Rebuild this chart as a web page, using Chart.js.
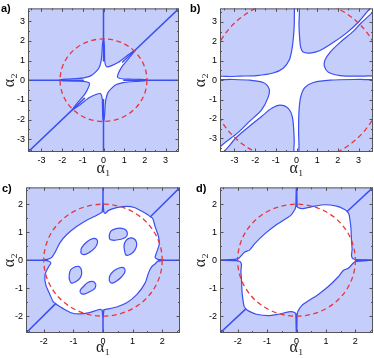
<!DOCTYPE html>
<html>
<head>
<meta charset="utf-8">
<script src="https://cdn.jsdelivr.net/npm/chart.js@4.4.1/dist/chart.umd.min.js"></script>
<style>
  body { margin: 0; background: #fff; overflow: hidden; }
  .panel { position: absolute; width: 187px; height: 179px; }
  .tag { position: absolute; font: bold 11px "Liberation Sans", Arial, sans-serif; color: #000; }
</style>
</head>
<body>
<div class="panel" style="left:0;top:0"><canvas id="pa" width="187" height="179"></canvas></div>
<div class="panel" style="left:187px;top:0"><canvas id="pb" width="187" height="179"></canvas></div>
<div class="panel" style="left:0;top:179px"><canvas id="pc" width="187" height="179"></canvas></div>
<div class="panel" style="left:187px;top:179px"><canvas id="pd" width="187" height="179"></canvas></div>
<div class="tag" style="left:1px;top:2px">a)</div>
<div class="tag" style="left:190px;top:2px">b)</div>
<div class="tag" style="left:2px;top:182px">c)</div>
<div class="tag" style="left:196px;top:182px">d)</div>
<script>
// axis extent, ticks and dashed circle radius for each panel
const axisLimits = [3.65, 3.7, 2.6, 2.6];
const tickValues = [
    [-3, -2, -1, 0, 1, 2, 3],
    [-3, -2, -1, 0, 1, 2, 3],
    [-2, -1, 0, 1, 2],
    [-2, -1, 0, 1, 2]
];
const circleRadii = [2.1, 4.2, 2.0, 2.0];

// white regions (boundary)
const regionA = [
    [0, 2.15], [0.04, 1.8], [0.05, 1.3], [0.06, 0.95], [0.15, 0.68], [0.4, 0.74], [0.72, 0.91], [1.12, 1.23], [1.44, 1.47], [1.52, 1.52],
    [1.47, 1.44], [1.23, 1.12], [0.91, 0.72], [0.74, 0.4], [0.68, 0.15], [0.95, 0.06], [1.3, 0.05], [1.8, 0.04], [2.15, 0],
    [1.8, -0.05], [1.3, -0.08], [0.95, -0.12], [0.62, -0.22], [0.4, -0.4], [0.22, -0.62], [0.12, -0.95], [0.08, -1.3], [0.05, -1.8], [0, -2.15],
    [-0.04, -1.8], [-0.05, -1.3], [-0.06, -0.95], [-0.15, -0.68], [-0.4, -0.74], [-0.72, -0.91], [-1.12, -1.23], [-1.44, -1.47], [-1.52, -1.52],
    [-1.47, -1.44], [-1.23, -1.12], [-0.91, -0.72], [-0.74, -0.4], [-0.68, -0.15], [-0.95, -0.06], [-1.3, -0.05], [-1.8, -0.04], [-2.15, 0],
    [-1.8, 0.05], [-1.3, 0.08], [-0.95, 0.12], [-0.62, 0.22], [-0.4, 0.4], [-0.22, 0.62], [-0.12, 0.95], [-0.08, 1.3], [-0.05, 1.8], [0, 2.15]
];
const regionB = [
    [-0.1, 3.75], [0.12, 3.75], [0.12, 2.86], [0.15, 2.2], [0.2, 1.7], [0.32, 1.45], [0.66, 1.4], [1.14, 1.53], [1.79, 1.95], [2.44, 2.45], [3.0, 3.0], [3.62, 3.75],
    [3.75, 3.6], [3.1, 2.92], [2.76, 2.53], [2.11, 1.95], [1.63, 1.45], [1.38, 1.04], [1.35, 0.71], [1.54, 0.41], [2.11, 0.24], [3.08, 0.21], [3.75, 0.2],
    [3.75, 0.04], [3.08, 0.04], [1.63, 0.0], [0.82, -0.12], [0.41, -0.37], [0.2, -0.87], [0.12, -1.62], [0.1, -2.6], [0.1, -3.75],
    [-0.11, -3.75], [-0.11, -3.1], [-0.19, -1.95], [-0.4, -1.45], [-0.8, -1.28], [-1.2, -1.45], [-1.69, -1.87], [-2.26, -2.36], [-2.9, -2.94], [-3.6, -3.75],
    [-3.75, -3.5], [-2.83, -2.7], [-2.26, -2.11], [-1.69, -1.53], [-1.37, -0.87], [-1.32, -0.46], [-1.61, -0.12], [-2.26, 0.0], [-3.23, 0.04], [-3.75, 0.04],
    [-3.75, 0.19], [-3.23, 0.19], [-2.74, 0.21], [-1.93, 0.24], [-1.13, 0.37], [-0.64, 0.62], [-0.35, 1.04], [-0.23, 1.53], [-0.15, 2.2], [-0.11, 2.86], [-0.1, 3.75]
];
const regionC = [
    [-0.1, 1.67], [-0.03, 1.72], [0, 2.05], [0.03, 1.72], [0.07, 1.67],
    [0.19, 1.78], [0.46, 1.875], [0.8, 1.92], [1.08, 1.875], [1.36, 1.72], [1.53, 1.61], [1.6, 1.55], [1.68, 1.49], [1.76, 1.2], [1.87, 0.86], [1.9, 0.57], [1.81, 0.28], [1.76, 0.1], [1.85, 0.03], [2.05, 0], [1.85, -0.04],
    [1.76, -0.13], [1.64, -0.24], [1.53, -0.47], [1.42, -0.82], [1.14, -1.23], [0.8, -1.52], [0.46, -1.67], [0.12, -1.75], [0.05, -1.76],
    [0.03, -1.8], [0, -2.05], [-0.03, -1.8], [-0.08, -1.76],
    [-0.19, -1.78], [-0.46, -1.875], [-0.8, -1.92], [-1.08, -1.875], [-1.36, -1.72], [-1.53, -1.61], [-1.6, -1.55], [-1.68, -1.49], [-1.79, -1.23], [-1.93, -0.88], [-1.96, -0.53], [-1.84, -0.24], [-1.76, -0.1], [-1.85, -0.03], [-2.05, 0], [-1.85, 0.04],
    [-1.73, 0.1], [-1.62, 0.28], [-1.45, 0.63], [-1.23, 0.91], [-0.89, 1.2], [-0.55, 1.43], [-0.27, 1.57], [-0.1, 1.67]
];
const regionD = [
    [-0.05, 1.82], [-0.02, 1.95], [0, 2.6], [0.02, 1.95], [0.05, 1.88], [0.22, 1.84], [0.62, 1.93], [0.96, 1.98], [1.36, 1.93], [1.62, 1.82], [1.72, 1.74], [1.78, 1.65], [1.81, 1.49], [1.85, 1.15], [1.87, 0.68], [1.89, 0.39], [1.87, 0.16], [1.92, 0.05], [2.05, 0.02], [2.6, 0], [2.05, -0.04], [1.95, -0.08],
    [1.76, -0.29], [1.6, -0.36], [1.42, -0.59], [1.08, -0.94], [0.73, -1.23], [0.39, -1.46], [0.17, -1.63], [0.05, -1.82],
    [0.02, -1.95], [0, -2.6], [-0.02, -1.95], [-0.05, -1.88], [-0.22, -1.84], [-0.62, -1.93], [-0.96, -1.98], [-1.36, -1.93], [-1.62, -1.82], [-1.72, -1.74], [-1.78, -1.65], [-1.81, -1.49], [-1.85, -1.15], [-1.87, -0.68], [-1.89, -0.39], [-1.87, -0.16], [-1.92, -0.05], [-2.05, -0.02], [-2.6, 0], [-2.05, 0.04], [-1.95, 0.08],
    [-1.76, 0.29], [-1.6, 0.36], [-1.42, 0.59], [-1.08, 0.94], [-0.73, 1.23], [-0.39, 1.46], [-0.17, 1.63], [-0.05, 1.82]
];

// the six islands inside panel c
const islandsC = [
    [[0.23, 0.74], [0.21, 0.86], [0.26, 1.03], [0.41, 1.12], [0.63, 1.14], [0.78, 1.07], [0.82, 0.91], [0.74, 0.8], [0.57, 0.74], [0.37, 0.71], [0.23, 0.74]],
    [[0.74, 0.28], [0.71, 0.51], [0.78, 0.71], [0.94, 0.8], [1.08, 0.74], [1.14, 0.57], [1.08, 0.37], [0.94, 0.22], [0.78, 0.18], [0.74, 0.28]],
    [[-0.75, 0.25], [-0.72, 0.45], [-0.55, 0.65], [-0.35, 0.77], [-0.21, 0.74], [-0.19, 0.6], [-0.29, 0.42], [-0.46, 0.28], [-0.64, 0.2], [-0.75, 0.25]],
    [[-0.74, -0.3], [-0.72, -0.47], [-0.77, -0.63], [-0.91, -0.76], [-1.06, -0.82], [-1.13, -0.7], [-1.14, -0.53], [-1.09, -0.34], [-0.95, -0.24], [-0.82, -0.22], [-0.74, -0.3]],
    [[-0.24, -0.86], [-0.27, -1.0], [-0.42, -1.11], [-0.61, -1.2], [-0.74, -1.19], [-0.77, -1.08], [-0.66, -0.94], [-0.5, -0.79], [-0.33, -0.76], [-0.24, -0.86]],
    [[0.21, -0.74], [0.23, -0.56], [0.37, -0.38], [0.57, -0.27], [0.71, -0.28], [0.74, -0.42], [0.63, -0.59], [0.46, -0.74], [0.29, -0.82], [0.21, -0.74]]
];

// straight contour pieces [x1, y1, x2, y2]
const linesA = [[0, 0.95, 0, 3.65], [0, -0.95, 0, -3.65], [0.95, 0, 3.65, 0], [-0.95, 0, -3.65, 0], [0.9, 0.9, 3.65, 3.65], [-0.9, -0.9, -3.65, -3.65]];
const linesB = [];
const linesC = [[0, 1.72, 0, 2.6], [0, -1.76, 0, -2.6], [1.85, 0, 2.6, 0], [-1.85, 0, -2.6, 0], [1.6, 1.55, 2.6, 2.6], [-1.6, -1.55, -2.6, -2.6]];
const linesD = [[0, 1.9, 0, 2.6], [0, -1.9, 0, -2.6], [2.0, 0, 2.6, 0], [-2.0, 0, -2.6, 0], [1.72, 1.74, 2.6, 2.6], [-1.72, -1.74, -2.6, -2.6]];

const BLUE = '#3b4ef2';
const SHADE = '#c5cdfa';
const RED = '#e8363c';

const toPts = arr => arr.map(p => ({x: p[0], y: p[1]}));

const shadePlugin = {
    id: 'shade',
    beforeDatasetsDraw(chart) {
        const a = chart.chartArea, ctx = chart.ctx;
        ctx.save();
        ctx.fillStyle = SHADE;
        ctx.fillRect(a.left, a.top, a.right - a.left, a.bottom - a.top);
        ctx.restore();
    }
};

const overlayPlugin = {
    id: 'overlay',
    afterDatasetsDraw(chart, args, opts) {
        const a = chart.chartArea, ctx = chart.ctx;
        const xs = chart.scales.x, ys = chart.scales.y;
        // dashed circle
        ctx.save();
        ctx.beginPath();
        ctx.rect(a.left, a.top, a.right - a.left, a.bottom - a.top);
        ctx.clip();
        const cx = xs.getPixelForValue(0), cy = ys.getPixelForValue(0);
        const rx = xs.getPixelForValue(opts.radius) - cx;
        const ry = cy - ys.getPixelForValue(opts.radius);
        ctx.beginPath();
        ctx.ellipse(cx, cy, rx, ry, 0, 0, Math.PI * 2);
        ctx.setLineDash([5, 3.5]);
        ctx.strokeStyle = RED;
        ctx.lineWidth = 1.3;
        ctx.stroke();
        ctx.restore();
        // frame with inward ticks
        ctx.save();
        ctx.strokeStyle = '#555';
        ctx.lineWidth = 1;
        ctx.strokeRect(a.left + 0.5, a.top + 0.5, a.right - a.left - 1, a.bottom - a.top - 1);
        ctx.beginPath();
        const lim = opts.limit;
        for (let v = -Math.floor(lim * 2) / 2; v <= lim; v += 0.5) {
            const len = Number.isInteger(v) ? 3.5 : 2;
            const px = Math.round(xs.getPixelForValue(v)) + 0.5;
            const py = Math.round(ys.getPixelForValue(v)) + 0.5;
            ctx.moveTo(px, a.bottom); ctx.lineTo(px, a.bottom - len);
            ctx.moveTo(px, a.top); ctx.lineTo(px, a.top + len);
            ctx.moveTo(a.left, py); ctx.lineTo(a.left + len, py);
            ctx.moveTo(a.right, py); ctx.lineTo(a.right - len, py);
        }
        ctx.stroke();
        ctx.restore();
    }
};

function makePanel(id, i, region, lines, islands, box) {
    const lim = axisLimits[i];
    const datasets = [];
    lines.forEach(l => datasets.push({
        data: toPts([[l[0], l[1]], [l[2], l[3]]]),
        showLine: true, fill: false, borderColor: BLUE, borderWidth: 1.5,
        pointRadius: 0, order: 1
    }));
    islands.forEach(s => datasets.push({
        data: toPts(s),
        showLine: true, fill: 'shape', backgroundColor: SHADE, borderColor: BLUE,
        borderWidth: 1.2, pointRadius: 0, tension: 0.4, order: 5
    }));
    datasets.push({
        data: toPts(region),
        showLine: true, fill: 'shape', backgroundColor: '#ffffff', borderColor: BLUE,
        borderWidth: 1.2, pointRadius: 0, tension: box.tension, order: 10
    });

    const axis = (title, size, pad) => ({
        type: 'linear', min: -lim, max: lim,
        afterBuildTicks: s => { s.ticks = tickValues[i].map(v => ({value: v})); },
        afterFit: s => { if (s.isHorizontal()) s.height = size; else s.width = size; },
        grid: {display: false, drawTicks: false, tickLength: 0},
        border: {display: false},
        ticks: {
            autoSkip: false, maxRotation: 0, padding: 3, color: '#000',
            font: {family: '"Liberation Sans", Arial, sans-serif', size: 9}
        },
        title: {
            display: true, text: title, color: '#222', padding: pad,
            font: {family: '"Liberation Serif", "DejaVu Serif", serif', size: 16}
        }
    });

    new Chart(document.getElementById(id), {
        type: 'scatter',
        data: {datasets: datasets},
        options: {
            responsive: false,
            animation: false,
            devicePixelRatio: 1,
            events: [],
            layout: {padding: {left: 0, right: box.right, top: box.top, bottom: 0}},
            scales: {
                x: axis('α₁', box.xh, {top: 0, bottom: 1}),
                y: axis('α₂', box.yw, {top: box.ypad, bottom: 0})
            },
            plugins: {
                legend: {display: false},
                tooltip: {enabled: false},
                overlay: {radius: circleRadii[i], limit: lim}
            }
        },
        plugins: [shadePlugin, overlayPlugin]
    });
}

makePanel('pa', 0, regionA, linesA, [], {yw: 28, xh: 27, right: 8, top: 2, ypad: 0, tension: 0.15});
makePanel('pb', 1, regionB, linesB, [], {yw: 33, xh: 27, right: 1, top: 3, ypad: 4, tension: 0.3});
makePanel('pc', 2, regionC, linesC, islandsC, {yw: 26, xh: 25, right: 7, top: 4, ypad: 0, tension: 0.25});
makePanel('pd', 3, regionD, linesD, [], {yw: 33, xh: 25, right: 1, top: 4, ypad: 4, tension: 0.25});
</script>
</body>
</html>
